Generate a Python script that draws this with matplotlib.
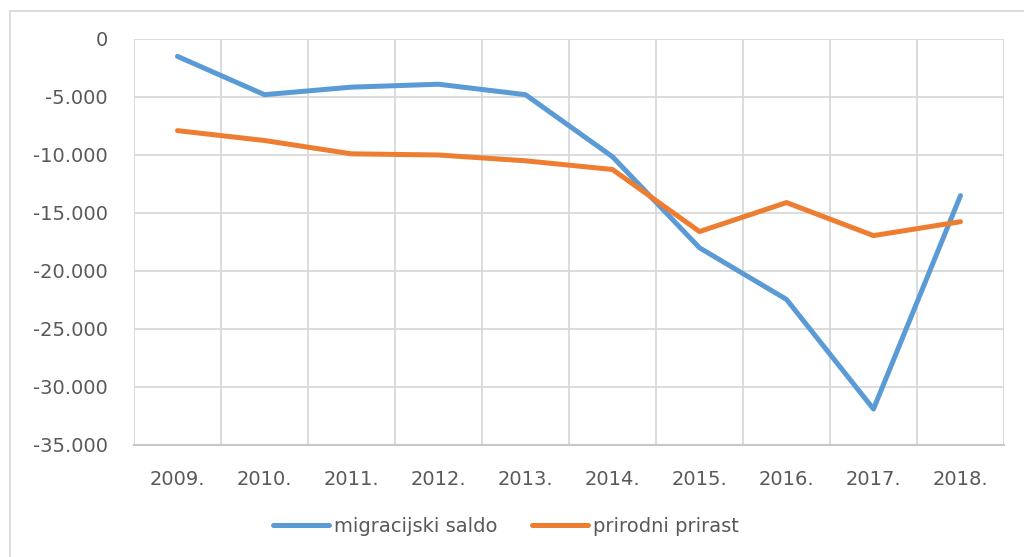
import matplotlib.pyplot as plt
from matplotlib.patches import Rectangle
from matplotlib.ticker import FuncFormatter, FixedLocator

godine = ['2009.', '2010.', '2011.', '2012.', '2013.', '2014.', '2015.', '2016.', '2017.', '2018.']
migracijski_saldo = [-1500, -4800, -4150, -3900, -4800, -10150, -18000, -22450, -31900, -13500]
prirodni_prirast = [-7900, -8750, -9900, -10000, -10500, -11250, -16600, -14100, -16950, -15750]

grid_col = '#d9d9d9'
text_col = '#595959'

fig = plt.figure(figsize=(10.24, 5.57), dpi=100)
ax = fig.add_axes([134/1024, 1-445/557, 870/1024, 406/557])

x = range(len(godine))
ax.plot(x, migracijski_saldo, color='#5b9bd5', lw=3.6, label='migracijski saldo', solid_capstyle='round')
ax.plot(x, prirodni_prirast, color='#ed7d31', lw=3.6, label='prirodni prirast', solid_capstyle='round')

ax.set_xlim(-0.5, len(godine) - 0.5)
ax.set_ylim(-35000, 0)
ax.set_yticks(range(-35000, 1, 5000))
ax.yaxis.set_major_formatter(FuncFormatter(lambda v, p: f'{int(v):,}'.replace(',', '.')))
ax.set_xticks(list(x))
ax.set_xticklabels(godine)
ax.xaxis.set_minor_locator(FixedLocator([i - 0.5 for i in range(len(godine) + 1)]))

ax.grid(True, axis='y', which='major', color=grid_col, lw=1.3)
ax.grid(True, axis='x', which='minor', color=grid_col, lw=1.3)
ax.set_axisbelow(True)
for s in ['top', 'right', 'left']:
    ax.spines[s].set_visible(False)
ax.spines['bottom'].set_color('#c8c8c8')
ax.spines['bottom'].set_linewidth(1.5)

ax.tick_params(axis='both', which='both', length=0, labelsize=14, labelcolor=text_col)
ax.tick_params(axis='y', pad=19)
ax.tick_params(axis='x', pad=18)

fig.legend(loc='center', bbox_to_anchor=(506/1024, 1-526/557), ncol=2, frameon=False,
           fontsize=14, labelcolor=text_col, handlelength=2.9, handletextpad=0.25,
           columnspacing=1.75)

# okvir oko grafa
fig.patches.append(Rectangle((10/1024, -0.1), 1.2, 1.1 - 11/557, transform=fig.transFigure,
                             fill=False, edgecolor=grid_col, lw=1.3))

fig.savefig('out.png', dpi=100)
